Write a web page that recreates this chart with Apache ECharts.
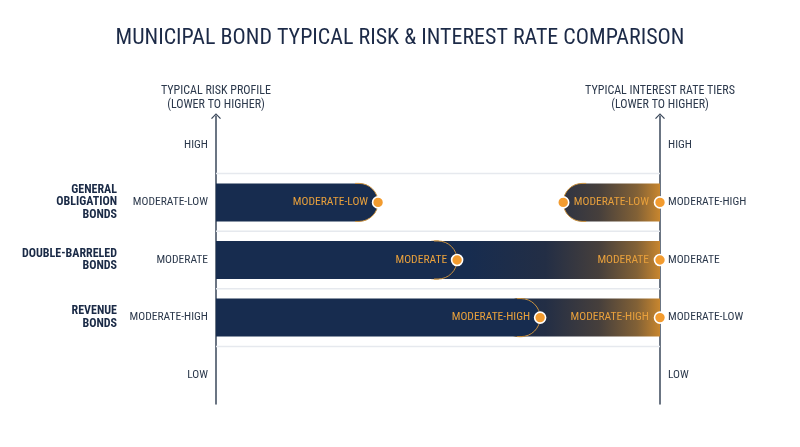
<!DOCTYPE html>
<html>
<head>
<meta charset="utf-8">
<script src="https://cdn.jsdelivr.net/npm/echarts@6/dist/echarts.min.js"></script>
<style>
  html, body { margin: 0; padding: 0; background: #fff; }
  #chart { width: 800px; height: 447px; }
</style>
</head>
<body>
<div id="chart"></div>
<script>
// tick labels, bottom to top
const riskTicks = ['LOW', 'MODERATE-HIGH', 'MODERATE', 'MODERATE-LOW', 'HIGH'];
const rateTicks = ['LOW', 'MODERATE-LOW', 'MODERATE', 'MODERATE-HIGH', 'HIGH'];
const bondTicks = ['', 'REVENUE\nBONDS', 'DOUBLE-BARRELED\nBONDS', 'GENERAL\nOBLIGATION\nBONDS', ''];

// one entry per bond, top to bottom
const bondRows = [3, 2, 1];
const riskEnd = [36.5, 54.3, 73];     // where the risk bar ends (0-100 across)
const rateStart = [78.2, 45, 64];     // where the rate bar starts (runs to 100)
const barLabels = ['MODERATE-LOW', 'MODERATE', 'MODERATE-HIGH'];
const separators = [0, 1, 2, 3];

const FONT = '"Roboto Condensed", Roboto, sans-serif';
const NAVY = '#172c4f';
const ORANGE = '#f29b2f';
const LABEL_ORANGE = '#e8a03c';
const AXIS = '#3a475a';
const TEXT = '#2c394c';
const CHEVRON = 'path://M0,10 L10,0 L20,10 L18,11.5 L10,3.2 L2,11.5 Z';

const chart = echarts.init(document.getElementById('chart'));

function dot(x, y) {
  return {
    type: 'circle',
    shape: { cx: x, cy: y, r: 5.5 },
    style: { fill: ORANGE, stroke: '#fff', lineWidth: 1.6 }
  };
}

function label(text, x, y) {
  return {
    type: 'text',
    style: {
      text: text, x: x, y: y, align: 'right', verticalAlign: 'middle',
      fill: LABEL_ORANGE, font: '11.5px ' + FONT
    }
  };
}

function renderRisk(params, api) {
  const i = api.value(2);
  const c = api.coord([api.value(0), api.value(1)]);
  const x0 = api.coord([0, api.value(1)])[0];
  const r = api.size([0, 1])[1] * 0.33;
  const yc = c[1], yT = yc - r, yB = yc + r, xe = c[0], xs = xe - r;
  const body = 'M' + x0 + ' ' + yT + ' L' + xs + ' ' + yT +
    ' A' + r + ' ' + r + ' 0 0 1 ' + xe + ' ' + yc +
    ' A' + r + ' ' + r + ' 0 0 1 ' + xs + ' ' + yB +
    ' L' + x0 + ' ' + yB + ' Z';
  const rim = 'M' + (xs - 4) + ' ' + yT + ' L' + xs + ' ' + yT +
    ' A' + r + ' ' + r + ' 0 0 1 ' + xe + ' ' + yc +
    ' A' + r + ' ' + r + ' 0 0 1 ' + xs + ' ' + yB +
    ' L' + (xs - 4) + ' ' + yB;
  return {
    type: 'group',
    children: [
      { type: 'path', shape: { pathData: body }, style: { fill: NAVY } },
      { type: 'path', shape: { pathData: rim }, style: { fill: 'none', stroke: '#c9913f', lineWidth: 1 } },
      label(barLabels[i], xe - 10, yc),
      dot(xe, yc)
    ]
  };
}

function renderRate(params, api) {
  const i = api.value(2);
  const c = api.coord([api.value(0), api.value(1)]);
  const xa = api.coord([100, api.value(1)])[0];
  const r = api.size([0, 1])[1] * 0.33;
  const yc = c[1], yT = yc - r, yB = yc + r, xs = c[0];
  const body = 'M' + xa + ' ' + yT + ' L' + (xs + r) + ' ' + yT +
    ' A' + r + ' ' + r + ' 0 0 0 ' + xs + ' ' + yc +
    ' A' + r + ' ' + r + ' 0 0 0 ' + (xs + r) + ' ' + yB +
    ' L' + xa + ' ' + yB + ' Z';
  const rim = 'M' + (xs + r + 4) + ' ' + yT + ' L' + (xs + r) + ' ' + yT +
    ' A' + r + ' ' + r + ' 0 0 0 ' + xs + ' ' + yc +
    ' A' + r + ' ' + r + ' 0 0 0 ' + (xs + r) + ' ' + yB +
    ' L' + (xs + r + 4) + ' ' + yB;
  // gradient shared across rows, anchored to the right axis
  const gx0 = api.coord([57, api.value(1)])[0];
  return {
    type: 'group',
    children: [
      {
        type: 'path', shape: { pathData: body },
        style: {
          fill: new echarts.graphic.LinearGradient(gx0, 0, xa, 0, [
            { offset: 0, color: NAVY },
            { offset: 0.4, color: '#232e45' },
            { offset: 0.68, color: '#463f3c' },
            { offset: 0.88, color: '#826136' },
            { offset: 1, color: '#c8862e' }
          ], true)
        }
      },
      { type: 'path', shape: { pathData: rim }, style: { fill: 'none', stroke: '#c9913f', lineWidth: 1 } },
      dot(xs, yc),
      label(barLabels[i], xa - 11, yc),
      dot(xa, yc)
    ]
  };
}

function renderSeparator(params, api) {
  const idx = api.value(1);
  const a = api.coord([0, idx]);
  const b = api.coord([100, idx]);
  const y = a[1] - api.size([0, 1])[1] / 2;
  return {
    type: 'line',
    shape: { x1: a[0], y1: y, x2: b[0], y2: y },
    style: { stroke: '#e6e9ee', lineWidth: 1.5 }
  };
}

const axisName = {
  align: 'center', verticalAlign: 'bottom', lineHeight: 14,
  fontSize: 12, color: TEXT, fontFamily: FONT
};

chart.setOption({
  animation: false,
  backgroundColor: '#fff',
  title: {
    text: 'MUNICIPAL BOND TYPICAL RISK & INTEREST RATE COMPARISON',
    left: 'center', top: 22,
    textStyle: { fontSize: 22, fontWeight: 'normal', color: '#1c2a47', fontFamily: FONT }
  },
  grid: { left: 216, right: 140, top: 116, bottom: 43 },
  xAxis: { type: 'value', min: 0, max: 100, show: false },
  yAxis: [
    {
      type: 'category', position: 'left', data: riskTicks,
      name: 'TYPICAL RISK PROFILE\n(LOWER TO HIGHER)', nameLocation: 'end', nameGap: 4,
      nameTextStyle: axisName,
      axisLine: { show: true, symbol: ['none', CHEVRON], symbolSize: [10, 6], lineStyle: { color: AXIS, width: 1.5 } },
      axisTick: { show: false },
      splitLine: { show: false },
      axisLabel: { color: TEXT, fontSize: 11.5, margin: 8, fontFamily: FONT }
    },
    {
      type: 'category', position: 'right', data: rateTicks,
      name: 'TYPICAL INTEREST RATE TIERS\n(LOWER TO HIGHER)', nameLocation: 'end', nameGap: 4,
      nameTextStyle: axisName,
      axisLine: { show: true, symbol: ['none', CHEVRON], symbolSize: [10, 6], lineStyle: { color: AXIS, width: 1.5 } },
      axisTick: { show: false },
      splitLine: { show: false },
      axisLabel: { color: TEXT, fontSize: 11.5, margin: 8, fontFamily: FONT }
    },
    {
      type: 'category', position: 'left', offset: 91, data: bondTicks,
      axisLine: { show: false }, axisTick: { show: false }, splitLine: { show: false },
      axisLabel: { color: '#1a2a46', fontSize: 12, fontWeight: 'bold', lineHeight: 12.5, margin: 8, fontFamily: FONT }
    }
  ],
  series: [
    {
      type: 'custom', z: 1, silent: true,
      data: separators.map(function (s) { return [0, s]; }),
      renderItem: renderSeparator
    },
    {
      type: 'custom', z: 2, silent: true,
      data: rateStart.map(function (v, i) { return [v, bondRows[i], i]; }),
      renderItem: renderRate
    },
    {
      type: 'custom', z: 3, silent: true,
      data: riskEnd.map(function (v, i) { return [v, bondRows[i], i]; }),
      renderItem: renderRisk
    }
  ]
});
</script>
</body>
</html>
